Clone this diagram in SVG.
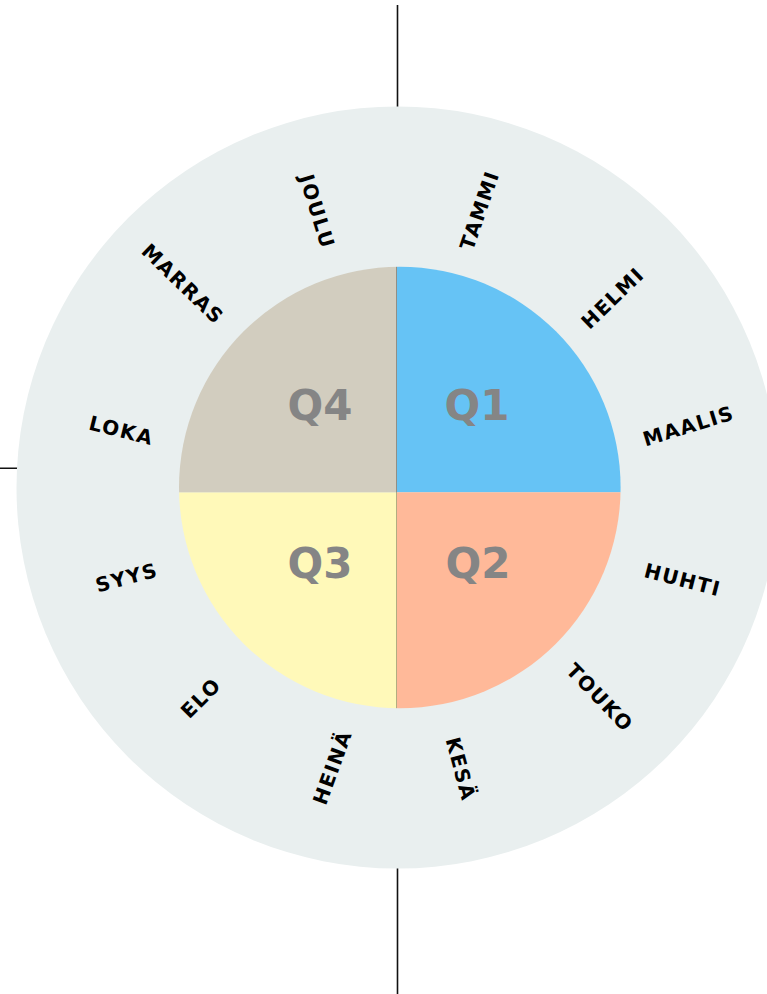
<svg xmlns="http://www.w3.org/2000/svg" width="767" height="994" viewBox="0 0 767 994">
<style>
.axis{stroke:#111;stroke-width:1.6;fill:none}
.ring{fill:#E9EFEF}
.q{font-family:"DejaVu Sans","Liberation Sans",sans-serif;font-weight:bold;font-size:42px;fill:#858585;text-anchor:middle}
.m{font-family:"DejaVu Sans","Liberation Sans",sans-serif;font-weight:bold;font-size:20px;letter-spacing:1.5px;fill:#000;text-anchor:middle}
</style>
<defs>
<clipPath id="pie"><circle cx="399.8" cy="487.5" r="220.8"/></clipPath>
</defs>
<g id="axes">
<line class="axis" x1="397.5" y1="5" x2="397.5" y2="994"/>
<line class="axis" x1="0" y1="468.3" x2="200" y2="468.3"/>
</g>
<circle id="year-ring" class="ring" cx="397.5" cy="487.5" r="381"/>
<g clip-path="url(#pie)">
<g id="q1"><rect x="397" y="260" width="230" height="232.3" fill="#66C3F5"/><text class="q" x="477" y="420">Q1</text></g>
<g id="q2"><rect x="397" y="492.3" width="230" height="225" fill="#FFB999"/><text class="q" x="478" y="578.3">Q2</text></g>
<g id="q3"><rect x="170" y="492.3" width="227" height="225" fill="#FFF9B9"/><text class="q" x="320" y="578.3">Q3</text></g>
<g id="q4"><rect x="170" y="260" width="227" height="232.3" fill="#D2CDBF"/><text class="q" x="320" y="420">Q4</text></g>
<line x1="396.5" y1="260" x2="396.5" y2="720" stroke="#000" stroke-opacity="0.3" stroke-width="1"/>
</g>
<g id="months">
<g id="tammi"><text class="m" transform="translate(479,210.8) rotate(-71)" x="0.75" dy="7.3">TAMMI</text></g>
<g id="helmi"><text class="m" transform="translate(612,298.3) rotate(-44)" x="0.75" dy="7.3">HELMI</text></g>
<g id="maalis"><text class="m" transform="translate(687.8,425.8) rotate(-17)" x="0.75" dy="7.3">MAALIS</text></g>
<g id="huhti"><text class="m" transform="translate(682,579.3) rotate(14.5)" x="0.75" dy="7.3">HUHTI</text></g>
<g id="touko"><text class="m" transform="translate(599.5,696.7) rotate(46)" x="0.75" dy="7.3">TOUKO</text></g>
<g id="kesa"><text class="m" transform="translate(460.8,768.3) rotate(75)" x="0.75" dy="7.3">KESÄ</text></g>
<g id="heina"><text class="m" transform="translate(332,768) rotate(-70)" x="0.75" dy="7.3">HEINÄ</text></g>
<g id="elo"><text class="m" transform="translate(200.3,698.3) rotate(-45)" x="0.75" dy="7.3">ELO</text></g>
<g id="syys"><text class="m" transform="translate(126,577.5) rotate(-15)" x="0.75" dy="7.3">SYYS</text></g>
<g id="loka"><text class="m" transform="translate(120.8,430) rotate(14)" x="0.75" dy="7.3">LOKA</text></g>
<g id="marras"><text class="m" transform="translate(182.5,283.3) rotate(44)" x="0.75" dy="7.3">MARRAS</text></g>
<g id="joulu"><text class="m" transform="translate(317.2,210.8) rotate(73)" x="0.75" dy="7.3">JOULU</text></g>
</g>
</svg>
